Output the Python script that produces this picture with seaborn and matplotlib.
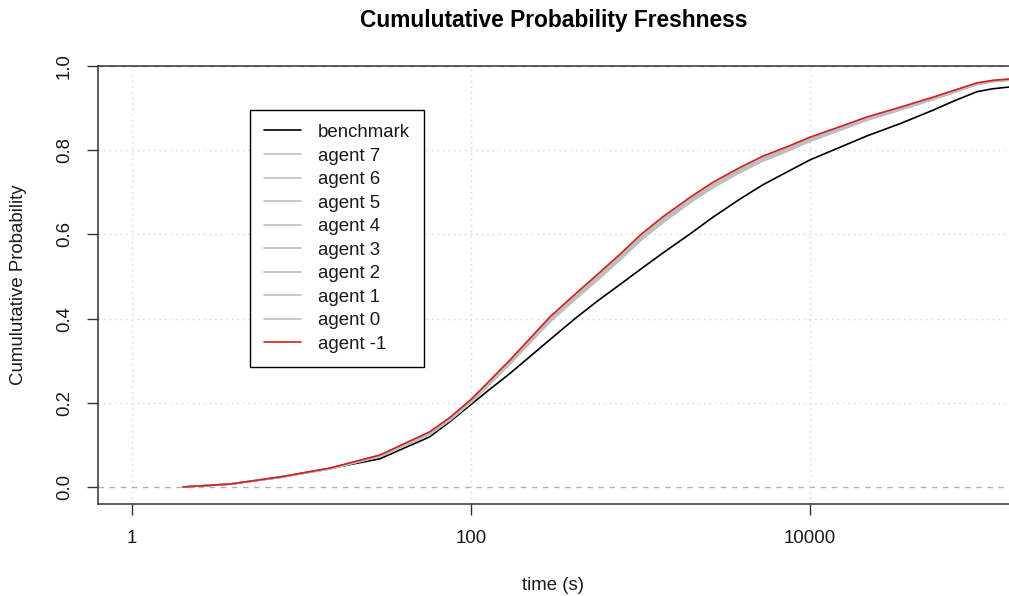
import matplotlib
matplotlib.use("Agg")
import matplotlib.pyplot as plt
from matplotlib.lines import Line2D
from matplotlib.ticker import FixedLocator, FixedFormatter, NullLocator
import pandas as pd
import seaborn as sns

# Time points (seconds) at which each cumulative curve is sampled
time_s = [2.0, 3.8, 7.5, 14.7, 29, 57, 75, 100, 129, 170, 223, 292, 411, 554,
          757, 1007, 1357, 1959, 2677, 3864, 5281, 7622, 10000, 15030, 21700,
          33960, 53190, 71720, 96680, 120100, 149300]

benchmark = [0.000, 0.007, 0.023, 0.044, 0.067, 0.119, 0.155, 0.196, 0.232,
             0.270, 0.310, 0.350, 0.400, 0.441, 0.481, 0.518, 0.556, 0.601,
             0.641, 0.684, 0.718, 0.752, 0.777, 0.807, 0.834, 0.863, 0.895,
             0.918, 0.939, 0.946, 0.950]
agent_7 = [0.000, 0.007, 0.023, 0.043, 0.072, 0.126, 0.159, 0.201, 0.245,
           0.293, 0.343, 0.393, 0.446, 0.491, 0.540, 0.587, 0.629, 0.676,
           0.712, 0.748, 0.775, 0.801, 0.822, 0.848, 0.872, 0.896, 0.921,
           0.938, 0.956, 0.963, 0.966]
agent_6 = [0.000, 0.007, 0.024, 0.044, 0.074, 0.128, 0.161, 0.204, 0.248,
           0.297, 0.347, 0.398, 0.451, 0.497, 0.546, 0.593, 0.635, 0.681,
           0.717, 0.753, 0.780, 0.805, 0.826, 0.851, 0.875, 0.898, 0.923,
           0.940, 0.958, 0.964, 0.967]
agent_5 = [0.000, 0.007, 0.023, 0.043, 0.072, 0.125, 0.158, 0.200, 0.244,
           0.292, 0.342, 0.392, 0.445, 0.490, 0.539, 0.586, 0.628, 0.675,
           0.711, 0.747, 0.774, 0.800, 0.821, 0.847, 0.871, 0.895, 0.920,
           0.938, 0.956, 0.963, 0.966]
agent_4 = [0.000, 0.007, 0.024, 0.044, 0.075, 0.129, 0.163, 0.206, 0.250,
           0.299, 0.350, 0.400, 0.454, 0.500, 0.549, 0.596, 0.638, 0.684,
           0.720, 0.755, 0.782, 0.808, 0.828, 0.853, 0.877, 0.900, 0.924,
           0.941, 0.959, 0.965, 0.968]
agent_3 = [0.000, 0.007, 0.023, 0.044, 0.073, 0.127, 0.160, 0.202, 0.247,
           0.295, 0.345, 0.396, 0.449, 0.494, 0.543, 0.590, 0.632, 0.679,
           0.715, 0.751, 0.778, 0.803, 0.824, 0.850, 0.873, 0.897, 0.922,
           0.939, 0.957, 0.964, 0.967]
agent_2 = [0.000, 0.007, 0.023, 0.044, 0.074, 0.127, 0.161, 0.203, 0.248,
           0.296, 0.346, 0.397, 0.450, 0.496, 0.545, 0.592, 0.634, 0.680,
           0.716, 0.752, 0.779, 0.804, 0.825, 0.851, 0.874, 0.898, 0.922,
           0.940, 0.958, 0.964, 0.967]
agent_1 = [0.000, 0.007, 0.023, 0.043, 0.073, 0.126, 0.159, 0.202, 0.246,
           0.294, 0.344, 0.394, 0.448, 0.493, 0.542, 0.589, 0.631, 0.678,
           0.714, 0.749, 0.776, 0.802, 0.823, 0.849, 0.873, 0.896, 0.921,
           0.939, 0.957, 0.964, 0.967]
agent_0 = [0.000, 0.007, 0.024, 0.044, 0.074, 0.129, 0.162, 0.205, 0.249,
           0.298, 0.349, 0.399, 0.453, 0.498, 0.547, 0.594, 0.636, 0.683,
           0.719, 0.754, 0.781, 0.807, 0.827, 0.852, 0.876, 0.899, 0.924,
           0.941, 0.958, 0.965, 0.968]
agent_m1 = [0.000, 0.007, 0.024, 0.045, 0.076, 0.131, 0.165, 0.208, 0.253,
            0.302, 0.353, 0.404, 0.458, 0.504, 0.553, 0.600, 0.642, 0.688,
            0.724, 0.759, 0.786, 0.811, 0.831, 0.856, 0.879, 0.902, 0.926,
            0.943, 0.960, 0.966, 0.969]

series_names = ["benchmark", "agent 7", "agent 6", "agent 5", "agent 4",
                "agent 3", "agent 2", "agent 1", "agent 0", "agent -1"]
series_values = [benchmark, agent_7, agent_6, agent_5, agent_4,
                 agent_3, agent_2, agent_1, agent_0, agent_m1]

x_ticks = [1, 100, 10000]
x_tick_labels = ["1", "100", "10000"]
y_ticks = [0.0, 0.2, 0.4, 0.6, 0.8, 1.0]
y_tick_labels = ["0.0", "0.2", "0.4", "0.6", "0.8", "1.0"]

GRAY = "#bebebe"
RED = "#d02020"
palette = {name: GRAY for name in series_names}
palette["benchmark"] = "black"
palette["agent -1"] = RED

rows = []
for name, vals in zip(series_names, series_values):
    for t, p in zip(time_s, vals):
        rows.append({"time": t, "prob": p, "series": name})
df = pd.DataFrame(rows)

sns.set_style("white")
plt.rcParams["font.family"] = ["Liberation Sans", "DejaVu Sans"]
TXT = "#1a1a1a"

fig = plt.figure(figsize=(10.09, 5.96), dpi=100)
ax = fig.add_axes([98 / 1009, 1 - 504 / 596, 911 / 1009, (504 - 66) / 596])

# dotted reference grid
for xv in x_ticks:
    ax.axvline(xv, color="#d3d3d3", lw=1, ls=(0, (1, 3)), zorder=0)
for yv in [0.2, 0.4, 0.6, 0.8]:
    ax.axhline(yv, color="#d3d3d3", lw=1, ls=(0, (1, 3)), zorder=0)
ax.axhline(0.0, color="#b3b3b3", lw=1, ls=(0, (4, 4)), zorder=0.5)
ax.axhline(1.0, color="#b3b3b3", lw=1, ls=(0, (4, 4)), zorder=0.5)

sns.lineplot(data=df, x="time", y="prob", hue="series", hue_order=series_names,
             palette=palette, estimator=None, errorbar=None, linewidth=1.2,
             legend=False, ax=ax)

ax.set_xscale("log")
ax.set_xlim(10 ** (-34 / 169.5), 10 ** (877 / 169.5))
ax.set_ylim(-17 / 421, 1.0)

ax.xaxis.set_major_locator(FixedLocator(x_ticks))
ax.xaxis.set_major_formatter(FixedFormatter(x_tick_labels))
ax.xaxis.set_minor_locator(NullLocator())
ax.yaxis.set_major_locator(FixedLocator(y_ticks))
ax.yaxis.set_major_formatter(FixedFormatter(y_tick_labels))

for side in ["left", "bottom", "top"]:
    ax.spines[side].set_visible(True)
    ax.spines[side].set_color("#333333")
    ax.spines[side].set_linewidth(1.1)
ax.spines["right"].set_visible(False)

ax.tick_params(axis="x", direction="out", length=8, width=1, color="#333333",
               labelsize=13.4, labelcolor=TXT, pad=11, bottom=True)
ax.tick_params(axis="y", direction="out", length=8, width=1, color="#333333",
               labelsize=13.4, labelcolor=TXT, pad=10, left=True,
               labelrotation=90)
for lab in ax.get_yticklabels():
    lab.set_verticalalignment("center")

ax.set_xlabel("time (s)", fontsize=13.4, color=TXT, labelpad=21)
ax.set_ylabel("Cumulutative Probability", fontsize=13.4, color=TXT, labelpad=21)
fig.text((98 + 1009) / 2 / 1009, 1 - 20 / 596,
         "Cumulutative Probability Freshness", ha="center", va="center",
         fontsize=16.4, fontweight="bold", color="black")

handles = [Line2D([], [], color=palette[n], lw=1.2) for n in series_names]
leg = ax.legend(handles, series_names, loc="upper left",
                bbox_to_anchor=(250 / 1009, 1 - 110 / 596),
                bbox_transform=fig.transFigure, fontsize=13.4,
                frameon=True, fancybox=False, framealpha=1,
                edgecolor="black", borderpad=0.75, labelspacing=0.35,
                handlelength=2.0, handletextpad=0.9, borderaxespad=0)
leg.get_frame().set_linewidth(1.0)
for t in leg.get_texts():
    t.set_color(TXT)

fig.savefig("out.png", dpi=100, facecolor="white")
